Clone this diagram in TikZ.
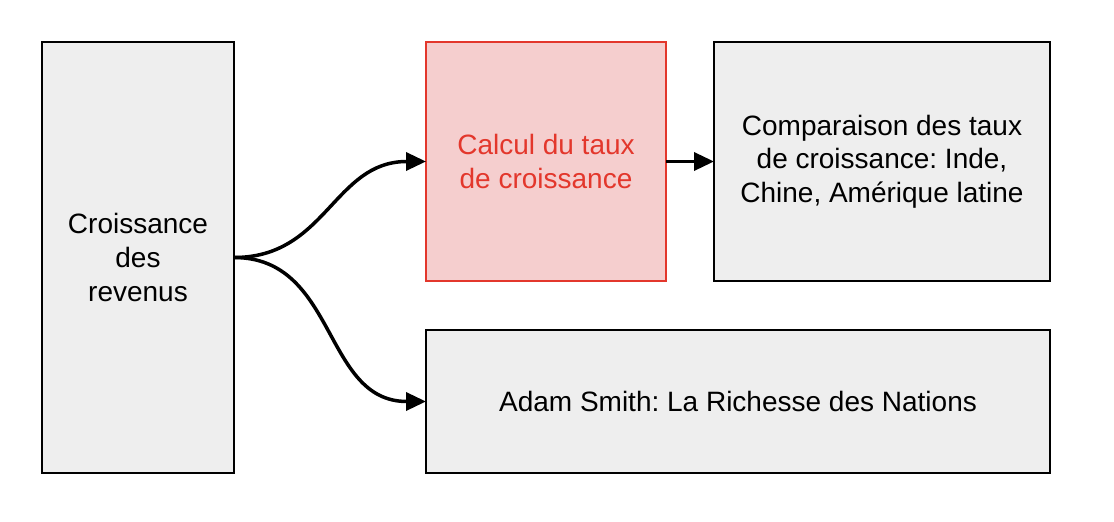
\documentclass[tikz,border=0pt]{standalone}
\usepackage{fontspec}
\setmainfont{Liberation Sans}
\usepackage{xcolor}
\usetikzlibrary{arrows.meta,positioning}
\definecolor{boxgray}{HTML}{EEEEEE}
\definecolor{calcred}{HTML}{E3372C}
\definecolor{calcfill}{HTML}{F5CECE}
\tikzstyle{bloc}=[draw=black, line width=2pt, fill=boxgray, inner sep=0pt, outer sep=0pt, align=center, font=\fontsize{28}{33.6}\selectfont]
\tikzstyle{fleche}=[line width=3.5pt, -{Triangle[length=20pt,width=18pt]}]
\frenchspacing

\begin{document}
\begin{tikzpicture}[x=1pt,y=-1pt]
\useasboundingbox (0,0) rectangle (1114,522);

% blocs
\node[bloc, minimum width=192pt, minimum height=431pt] (revenus) at (138,257.5) {Croissance\\des\\revenus};
\node[bloc, draw=calcred, fill=calcfill, text=calcred, minimum width=240pt, minimum height=239pt] (calcul) at (546,161.5) {Calcul du taux\\de croissance};
\node[bloc, minimum width=336pt, minimum height=239pt] (comparaison) at (882,161.5) {Comparaison des taux\\de croissance: Inde,\\Chine, Am\'erique latine};
\node[bloc, minimum width=624pt, minimum height=143pt] (smith) at (738,401.5) {Adam Smith: La Richesse des Nations};

% fleches
\draw[fleche] (revenus.east) to[out=0, in=180, looseness=1.1] (calcul.west);
\draw[fleche] (revenus.east) to[out=0, in=180, looseness=1.1] (smith.west);
\draw[fleche] (calcul.east) -- (comparaison.west);

\end{tikzpicture}
\end{document}
